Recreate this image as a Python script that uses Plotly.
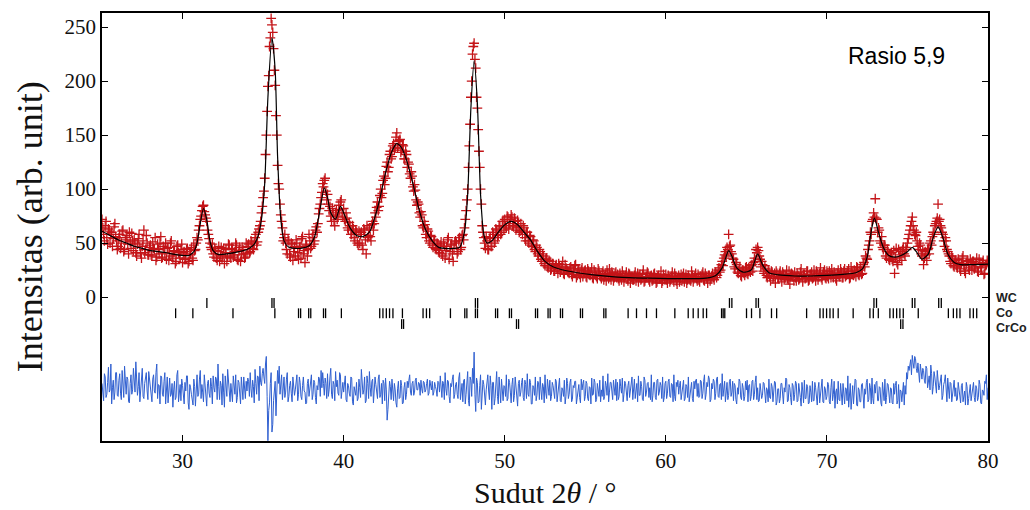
import plotly.graph_objects as go

# 2theta grids of the observed / difference data (whole and half 0.1-degree steps)
two_theta = [round(25 + i / 10, 2) for i in range(551)]
two_theta_half = [round(25.05 + i / 10, 2) for i in range(550)]

# observed intensity (red +) at two_theta, one row per degree
obs = [
    72, 58, 66, 55, 63, 50, 60, 54, 68, 52,
    47, 58, 50, 62, 44, 55, 49, 60, 45, 52,
    53, 41, 49, 58, 40, 47, 62, 44, 50, 39,
    48, 38, 45, 55, 37, 44, 50, 36, 47, 41,
    35, 46, 40, 52, 36, 43, 33, 48, 39, 44,
    32, 42, 36, 45, 33, 40, 36, 48, 44, 55,
    62, 72, 80, 85, 76, 70, 58, 50, 44, 40,
    45, 36, 42, 33, 46, 38, 31, 44, 37, 48,
    36, 44, 39, 50, 35, 43, 33, 46, 40, 37,
    40, 49, 42, 51, 44, 55, 48, 60, 66, 78,
    92, 110, 150, 195, 232, 258, 245, 210, 168, 122,
    100, 76, 64, 55, 50, 40, 52, 37, 49, 42,
    38, 50, 35, 47, 54, 40, 32, 48, 44, 52,
    47, 58, 52, 65, 68, 82, 92, 105, 108, 98,
    95, 80, 75, 82, 70, 76, 72, 85, 88, 78,
    82, 70, 73, 62, 66, 58, 63, 52, 60, 48,
    50, 60, 44, 62, 40, 55, 64, 52, 70, 68,
    74, 88, 84, 100, 96, 112, 110, 125, 120, 135,
    130, 142, 138, 152, 144, 146, 136, 140, 128, 132,
    125, 114, 116, 102, 104, 90, 88, 78, 79, 66,
    70, 58, 63, 52, 57, 48, 53, 45, 50, 43,
    48, 40, 50, 36, 47, 55, 42, 49, 33, 51,
    50, 42, 55, 46, 58, 64, 80, 100, 140, 185,
    225, 235, 212, 175, 135, 100, 66, 55, 45, 52,
    44, 55, 47, 58, 52, 62, 57, 65, 60, 70,
    72, 64, 74, 68, 76, 66, 73, 62, 71, 60,
    68, 58, 64, 52, 60, 50, 56, 47, 52, 42,
    46, 38, 42, 33, 38, 29, 36, 27, 33, 26,
    31, 24, 30, 22, 28, 25, 33, 21, 27, 24,
    22, 28, 19, 26, 30, 20, 25, 18, 27, 22,
    25, 18, 24, 20, 27, 17, 23, 19, 26, 21,
    17, 24, 19, 15, 22, 26, 16, 21, 18, 23,
    21, 15, 19, 24, 14, 20, 17, 22, 13, 19,
    16, 23, 18, 14, 21, 17, 25, 15, 19, 22,
    14, 20, 16, 22, 13, 19, 17, 24, 15, 18,
    21, 13, 18, 16, 23, 14, 19, 12, 20, 17,
    15, 22, 18, 13, 20, 16, 24, 14, 19, 17,
    21, 14, 18, 23, 15, 19, 13, 20, 17, 22,
    16, 23, 20, 27, 25, 33, 36, 42, 46, 58,
    48, 40, 35, 26, 30, 22, 27, 19, 25, 20,
    28, 21, 26, 29, 24, 36, 44, 46, 38, 28,
    30, 22, 26, 18, 24, 15, 23, 19, 13, 22,
    17, 24, 14, 21, 18, 25, 16, 12, 22, 19,
    23, 15, 20, 17, 26, 14, 21, 18, 24, 16,
    21, 17, 25, 15, 22, 19, 27, 16, 23, 18,
    24, 17, 22, 26, 18, 21, 15, 25, 19, 23,
    18, 26, 20, 24, 17, 28, 21, 25, 19, 27,
    20, 27, 22, 32, 38, 35, 48, 60, 70, 78,
    91, 72, 64, 52, 56, 44, 48, 36, 42, 34,
    41, 33, 22, 45, 30, 37, 42, 44, 40, 46,
    50, 58, 66, 74, 62, 57, 52, 44, 48, 38,
    30, 42, 34, 45, 50, 48, 60, 66, 70, 86,
    72, 64, 58, 47, 52, 42, 38, 31, 36, 28,
    34, 27, 32, 24, 36, 29, 22, 33, 27, 35,
    25, 33, 28, 36, 23, 31, 27, 34, 22, 30,
    32,
]

# observed intensity at two_theta_half
obs_half = [
    64, 52, 70, 49, 61, 58, 47, 65, 56, 44,
    55, 45, 61, 42, 53, 57, 40, 51, 59, 43,
    50, 38, 54, 47, 36, 52, 41, 57, 39, 46,
    39, 51, 44, 34, 49, 40, 56, 37, 45, 50,
    45, 34, 50, 38, 42, 31, 47, 41, 36, 49,
    41, 35, 44, 31, 39, 46, 34, 43, 50, 53,
    66, 75, 84, 79, 73, 62, 54, 46, 49, 37,
    43, 34, 47, 39, 36, 45, 41, 33, 49, 38,
    45, 37, 42, 48, 34, 46, 39, 44, 36, 50,
    47, 41, 52, 45, 50, 58, 51, 63, 70, 84,
    98, 132, 172, 205, 240, 252, 230, 196, 150, 105,
    86, 70, 52, 58, 44, 53, 39, 50, 34, 47,
    53, 41, 46, 36, 56, 43, 49, 38, 58, 45,
    55, 49, 62, 60, 77, 86, 97, 102, 110, 90,
    86, 84, 70, 78, 66, 80, 75, 81, 90, 74,
    72, 78, 64, 69, 58, 66, 55, 62, 50, 61,
    58, 48, 63, 53, 66, 57, 56, 67, 62, 78,
    83, 80, 94, 92, 108, 104, 121, 116, 132, 128,
    140, 136, 148, 138, 145, 134, 141, 128, 135, 120,
    123, 110, 112, 98, 99, 85, 86, 74, 76, 64,
    67, 55, 61, 50, 56, 46, 52, 44, 49, 41,
    51, 38, 47, 43, 53, 35, 48, 40, 45, 52,
    40, 52, 44, 57, 53, 72, 90, 120, 160, 200,
    232, 220, 185, 155, 120, 86, 60, 50, 56, 44,
    54, 47, 60, 50, 63, 55, 66, 58, 70, 62,
    66, 75, 63, 72, 74, 65, 70, 64, 68, 61,
    62, 66, 55, 60, 52, 57, 48, 53, 44, 48,
    40, 44, 35, 40, 31, 35, 28, 34, 25, 31,
    24, 29, 27, 31, 23, 28, 22, 30, 26, 23,
    27, 21, 24, 29, 18, 26, 21, 25, 19, 24,
    19, 26, 21, 23, 18, 25, 20, 17, 24, 19,
    22, 16, 21, 25, 17, 20, 23, 15, 22, 18,
    17, 22, 16, 20, 18, 23, 15, 21, 18, 16,
    20, 15, 22, 19, 16, 21, 14, 18, 23, 16,
    19, 15, 21, 17, 14, 20, 18, 13, 21, 16,
    16, 20, 14, 19, 17, 22, 15, 18, 14, 21,
    19, 14, 21, 16, 18, 15, 20, 17, 22, 15,
    16, 19, 21, 16, 22, 17, 20, 15, 19, 18,
    22, 18, 25, 23, 30, 29, 39, 38, 44, 47,
    42, 36, 28, 32, 23, 26, 20, 25, 22, 27,
    22, 27, 23, 30, 32, 33, 41, 43, 35, 33,
    24, 29, 20, 25, 19, 24, 17, 22, 24, 18,
    22, 19, 23, 16, 20, 17, 24, 19, 21, 15,
    18, 22, 16, 23, 19, 21, 17, 24, 15, 20,
    23, 18, 20, 24, 16, 22, 18, 21, 25, 17,
    19, 24, 18, 21, 23, 17, 22, 20, 26, 18,
    24, 19, 22, 26, 18, 24, 20, 23, 28, 21,
    25, 21, 30, 28, 36, 44, 52, 58, 72, 74,
    73, 60, 62, 50, 46, 48, 38, 44, 35, 40,
    35, 43, 36, 32, 44, 39, 34, 46, 38, 44,
    54, 62, 70, 66, 58, 60, 47, 50, 40, 43,
    36, 39, 44, 40, 52, 56, 58, 68, 73, 70,
    66, 60, 52, 55, 44, 40, 33, 38, 29, 34,
    29, 35, 26, 31, 38, 24, 30, 34, 25, 32,
    33, 26, 31, 24, 35, 28, 32, 21, 29, 34,
]

# calculated profile (black line), read at irregular 2theta positions
calc_x = [
    25.0, 25.5, 26.0, 26.5, 27.0, 27.5, 28.0, 28.5, 29.0, 29.5, 30.0, 30.4,
    30.7, 30.9, 31.1, 31.3, 31.5, 31.7, 31.9, 32.2, 32.8, 33.5, 34.0, 34.4,
    34.7, 34.9, 35.1, 35.3, 35.55, 35.75, 35.9, 36.1, 36.3, 36.6, 37.0, 37.5,
    37.9, 38.2, 38.5, 38.8, 39.0, 39.2, 39.5, 39.8, 40.0, 40.4, 40.8, 41.2,
    41.6, 41.9, 42.2, 42.6, 43.0, 43.3, 43.6, 43.9, 44.3, 44.7, 45.1, 45.5,
    45.9, 46.3, 46.8, 47.2, 47.5, 47.7, 47.9, 48.1, 48.3, 48.5, 48.7, 48.9,
    49.2, 49.6, 50.0, 50.4, 50.8, 51.2, 51.6, 52.0, 52.5, 53.0, 53.5, 54.5,
    55.5, 57.0, 59.0, 61.0, 62.5, 63.1, 63.5, 63.9, 64.1, 64.4, 64.8, 65.3,
    65.7, 66.0, 66.4, 67.0, 68.0, 69.0, 70.0, 71.0, 71.8, 72.2, 72.5, 72.8,
    72.95, 73.2, 73.5, 73.8, 74.2, 74.6, 75.0, 75.3, 75.6, 75.9, 76.3, 76.6,
    76.9, 77.2, 77.5, 77.9, 78.3, 79.0, 80.0,
]
calc_y = [
    61, 57, 53, 50, 47, 45, 43, 42, 41, 39.5, 38.5, 38.5,
    42, 50, 68, 82, 72, 52, 43, 39.5, 40, 42, 44, 48,
    57, 72, 105, 185, 240, 210, 130, 72, 52, 46, 45, 45.5,
    48, 56, 78, 101, 92, 78, 72, 84, 78, 64, 57, 56,
    60, 72, 88, 115, 135, 142, 138, 127, 105, 80, 62, 52,
    46, 45, 45, 46, 60, 95, 175, 219, 180, 95, 58, 50,
    52, 60, 67, 70, 67, 60, 53, 43, 33, 28, 25.5, 22.5,
    20.5, 18.5, 17.5, 17, 17.5, 20, 27, 43, 38, 27, 23, 25,
    40, 30, 22.5, 20.5, 19.5, 19.5, 20, 21, 22.5, 26, 37, 65,
    73, 60, 46, 39, 37, 38.5, 42, 46, 41, 35, 40, 55,
    65, 55, 40, 32, 30, 30, 30.5,
]

# difference curve (blue, already offset) at two_theta
diff = [
    -80, -96, -74, -90, -65, -86, -99, -77, -88, -70,
    -92, -71, -95, -82, -64, -90, -76, -98, -72, -86,
    -79, -60, -91, -70, -84, -66, -94, -75, -87, -69,
    -83, -97, -72, -89, -62, -81, -99, -74, -92, -70,
    -85, -98, -75, -90, -102, -78, -93, -68, -88, -96,
    -82, -99, -87, -73, -104, -84, -95, -76, -101, -72,
    -90, -68, -81, -97, -86, -101, -77, -93, -83, -73,
    -88, -76, -62, -95, -82, -71, -102, -85, -67, -91,
    -80, -97, -85, -72, -93, -79, -99, -86, -74, -94,
    -87, -78, -70, -93, -83, -67, -90, -74, -64, -82,
    -66, -80, -55, -133, -98, -70, -118, -86, -110, -68,
    -64, -82, -95, -74, -88, -70, -92, -78, -97, -83,
    -86, -72, -90, -79, -95, -74, -88, -98, -76, -85,
    -72, -90, -79, -99, -86, -76, -68, -70, -91, -80,
    -71, -86, -66, -94, -81, -69, -77, -91, -72, -84,
    -88, -73, -97, -82, -92, -75, -100, -86, -79, -94,
    -84, -67, -90, -74, -96, -80, -69, -92, -76, -88,
    -81, -94, -72, -90, -99, -80, -75, -114, -93, -83,
    -76, -96, -86, -102, -78, -93, -82, -98, -79, -90,
    -84, -72, -91, -78, -88, -75, -86, -80, -77, -89,
    -79, -86, -76, -89, -82, -78, -88, -83, -92, -79,
    -73, -93, -80, -70, -91, -78, -98, -83, -72, -90,
    -79, -94, -70, -88, -97, -76, -90, -69, -101, -77,
    -66, -51, -106, -79, -97, -72, -93, -81, -100, -77,
    -87, -73, -104, -79, -94, -69, -99, -86, -76, -96,
    -83, -72, -94, -79, -98, -75, -91, -84, -101, -77,
    -88, -75, -96, -81, -71, -92, -79, -99, -84, -74,
    -91, -79, -74, -95, -83, -72, -94, -86, -77, -92,
    -82, -94, -78, -90, -75, -97, -86, -77, -92, -80,
    -90, -76, -95, -84, -78, -93, -81, -98, -86, -77,
    -92, -80, -96, -84, -75, -90, -79, -95, -85, -77,
    -86, -73, -92, -82, -71, -88, -79, -95, -84, -76,
    -79, -92, -83, -75, -90, -80, -96, -78, -88, -74,
    -85, -94, -80, -73, -91, -83, -96, -77, -88, -79,
    -84, -72, -91, -79, -95, -76, -88, -82, -74, -93,
    -78, -89, -76, -93, -81, -72, -96, -83, -90, -78,
    -89, -77, -94, -83, -74, -91, -79, -97, -85, -76,
    -80, -92, -78, -89, -72, -90, -83, -76, -95, -85,
    -78, -89, -74, -93, -80, -71, -85, -97, -79, -91,
    -76, -88, -96, -82, -99, -90, -78, -95, -84, -92,
    -86, -97, -81, -92, -77, -90, -73, -84, -96, -86,
    -91, -80, -98, -86, -76, -94, -83, -89, -79, -97,
    -85, -94, -80, -99, -88, -76, -96, -84, -100, -82,
    -90, -80, -96, -85, -101, -87, -77, -94, -83, -98,
    -88, -78, -96, -84, -100, -79, -91, -76, -98, -85,
    -92, -81, -99, -76, -90, -103, -85, -78, -96, -87,
    -80, -99, -85, -73, -93, -104, -82, -91, -77, -101,
    -86, -97, -80, -103, -90, -76, -95, -84, -75, -99,
    -89, -78, -96, -84, -101, -87, -76, -93, -81, -98,
    -85, -99, -90, -78, -96, -103, -87, -82, -100, -90,
    -76, -68, -58, -54, -66, -57, -70, -73, -62, -76,
    -68, -80, -66, -78, -86, -71, -83, -74, -89, -77,
    -82, -72, -91, -78, -88, -75, -94, -80, -89, -77,
    -84, -95, -86, -98, -80, -90, -100, -83, -94, -81,
    -90, -79, -97, -85, -93, -81, -99, -87, -78, -72,
    -84,
]

# difference curve at two_theta_half
diff_half = [
    -86, -71, -93, -79, -88, -62, -84, -95, -70, -91,
    -77, -89, -68, -93, -81, -74, -97, -80, -90, -66,
    -88, -74, -83, -97, -72, -92, -80, -70, -95, -78,
    -91, -76, -87, -70, -94, -82, -73, -90, -78, -99,
    -74, -88, -92, -80, -86, -95, -72, -97, -81, -76,
    -95, -79, -73, -98, -81, -90, -100, -83, -77, -92,
    -76, -94, -88, -72, -97, -80, -89, -75, -99, -84,
    -74, -95, -83, -78, -100, -88, -73, -92, -80, -97,
    -93, -73, -90, -98, -77, -88, -74, -95, -91, -78,
    -75, -92, -85, -77, -98, -80, -73, -96, -79, -71,
    -74, -62, -92, -105, -80, -125, -96, -78, -92, -80,
    -90, -72, -78, -93, -76, -97, -82, -89, -74, -91,
    -78, -96, -74, -92, -82, -87, -99, -80, -92, -74,
    -95, -77, -93, -82, -74, -92, -84, -80, -75, -94,
    -92, -74, -90, -78, -96, -83, -89, -70, -94, -79,
    -77, -95, -80, -89, -74, -97, -83, -91, -96, -76,
    -93, -79, -86, -98, -73, -94, -84, -78, -98, -74,
    -90, -76, -93, -80, -77, -96, -86, -104, -78, -95,
    -92, -80, -98, -85, -94, -77, -99, -84, -95, -78,
    -77, -88, -80, -91, -77, -86, -79, -91, -85, -78,
    -88, -80, -91, -77, -86, -91, -79, -86, -78, -88,
    -88, -78, -95, -85, -77, -92, -80, -76, -94, -81,
    -90, -75, -95, -80, -77, -99, -82, -96, -74, -92,
    -80, -90, -75, -98, -82, -104, -77, -92, -86, -72,
    -95, -82, -79, -100, -84, -92, -74, -98, -90, -82,
    -92, -96, -76, -88, -81, -97, -74, -95, -80, -92,
    -79, -93, -77, -94, -90, -76, -99, -82, -91, -96,
    -78, -95, -86, -80, -98, -89, -76, -91, -96, -79,
    -93, -76, -97, -79, -96, -84, -92, -99, -75, -94,
    -79, -97, -82, -78, -99, -85, -93, -76, -80, -96,
    -78, -94, -83, -99, -91, -76, -97, -80, -92, -97,
    -92, -95, -78, -91, -97, -79, -93, -77, -91, -96,
    -95, -76, -89, -97, -78, -92, -82, -93, -79, -95,
    -76, -83, -97, -91, -78, -95, -74, -92, -80, -93,
    -95, -97, -79, -93, -77, -91, -79, -94, -97, -80,
    -94, -78, -92, -80, -97, -92, -79, -77, -82, -95,
    -78, -96, -81, -93, -97, -80, -94, -78, -77, -92,
    -93, -77, -94, -78, -95, -79, -73, -97, -80, -76,
    -95, -76, -92, -81, -95, -92, -78, -82, -95, -78,
    -92, -78, -80, -95, -84, -76, -93, -80, -96, -78,
    -77, -82, -96, -78, -95, -79, -95, -97, -80, -94,
    -79, -96, -84, -97, -93, -80, -97, -78, -100, -85,
    -98, -80, -95, -84, -75, -97, -81, -93, -80, -96,
    -78, -97, -80, -93, -79, -98, -94, -81, -99, -82,
    -97, -96, -79, -97, -85, -98, -79, -97, -83, -95,
    -79, -97, -84, -96, -78, -88, -99, -95, -80, -100,
    -95, -84, -96, -102, -80, -88, -99, -76, -100, -84,
    -97, -81, -98, -85, -79, -97, -80, -99, -94, -81,
    -79, -96, -83, -98, -79, -96, -99, -80, -95, -84,
    -98, -80, -82, -99, -81, -86, -97, -79, -82, -70,
    -64, -60, -72, -61, -55, -66, -61, -79, -67, -66,
    -77, -64, -84, -73, -63, -90, -69, -82, -68, -86,
    -76, -95, -81, -72, -97, -83, -79, -97, -78, -92,
    -96, -79, -91, -82, -97, -87, -79, -100, -85, -96,
    -80, -93, -82, -96, -77, -98, -86, -91, -80, -95,
]

# Bragg reflection positions of each phase
wc_pos = [31.51, 35.55, 35.68, 48.18, 48.32, 63.95, 64.10, 65.60, 65.75,
          72.92, 73.08, 75.30, 75.46, 76.94, 77.10]
co_pos = [29.57, 30.64, 33.13, 35.73, 37.20, 37.33, 37.83, 37.96, 38.75, 38.88,
          39.86, 42.24, 42.44, 42.65, 42.85, 43.06, 43.65, 44.93, 45.14, 45.34,
          46.63, 47.52, 47.65, 48.18, 48.31, 49.43, 49.56, 50.29, 50.42, 51.91,
          52.04, 52.69, 52.82, 53.46, 53.59, 54.70, 54.83, 56.15, 56.28, 57.66,
          58.18, 58.80, 59.42, 60.56, 61.39, 61.70, 62.01, 62.32, 62.53, 63.46,
          63.56, 63.66, 65.01, 65.32, 65.84, 66.56, 66.88, 68.74, 69.57, 69.77,
          69.98, 70.19, 70.39, 70.70, 71.63, 72.67, 72.88, 73.19, 73.91, 74.12,
          74.33, 74.53, 74.74, 75.67, 77.54, 77.85, 78.06, 78.26, 78.88, 79.09,
          79.30]
crco_pos = [43.60, 43.72, 50.73, 50.86, 74.58, 74.72]

phase_names = ["WC", "Co", "CrCo"]
phase_rows = [-5.5, -15, -25]
phase_label_y = [-1, -15, -29]
y_ticks = [0, 50, 100, 150, 200, 250]
x_ticks = [30, 40, 50, 60, 70, 80]

# combine whole- and half-step samples in 2theta order
obs_x = two_theta + two_theta_half
obs_y = obs + obs_half
diff_x, diff_y = [], []
for i in range(len(two_theta)):
    diff_x.append(two_theta[i])
    diff_y.append(diff[i])
    if i < len(two_theta_half):
        diff_x.append(two_theta_half[i])
        diff_y.append(diff_half[i])

fig = go.Figure()

fig.add_trace(go.Scatter(
    x=obs_x, y=obs_y, mode="markers",
    marker=dict(symbol="cross-thin", size=7, color="#d8161a",
                line=dict(width=1.3, color="#c41418")),
    showlegend=False, hoverinfo="skip"))

fig.add_trace(go.Scatter(
    x=calc_x, y=calc_y, mode="lines",
    line=dict(color="black", width=1.2, shape="spline", smoothing=0.7),
    showlegend=False, hoverinfo="skip"))

fig.add_trace(go.Scatter(
    x=diff_x, y=diff_y, mode="lines",
    line=dict(color="#2f5fd0", width=1),
    showlegend=False, hoverinfo="skip"))

for pos, row in zip([wc_pos, co_pos, crco_pos], phase_rows):
    fig.add_trace(go.Scatter(
        x=pos, y=[row] * len(pos), mode="markers",
        marker=dict(symbol="line-ns", size=7, color="black",
                    line=dict(width=1.3, color="black")),
        showlegend=False, hoverinfo="skip"))

for name, yv in zip(phase_names, phase_label_y):
    fig.add_annotation(x=1.007, xref="paper", y=yv, yref="y", text="<b>" + name + "</b>",
                       showarrow=False, xanchor="left", yanchor="middle",
                       font=dict(family="Liberation Sans", size=12.5, color="#222"))

fig.add_annotation(x=74.3, y=223, xref="x", yref="y", text="Rasio 5,9",
                   showarrow=False, xanchor="center", yanchor="middle",
                   font=dict(family="Liberation Sans", size=23, color="black"))

fig.add_annotation(x=0.5, xref="paper", y=-0.12, yref="paper",
                   text="Sudut 2<i>θ</i> / °", showarrow=False,
                   xanchor="center", yanchor="middle",
                   font=dict(family="Liberation Serif", size=30, color="#111"))

fig.add_annotation(x=-0.081, xref="paper", y=0.5, yref="paper",
                   text="Intensitas (arb. unit)", showarrow=False, textangle=-90,
                   xanchor="center", yanchor="middle",
                   font=dict(family="Liberation Serif", size=36, color="#111"))

fig.update_layout(
    width=1030, height=510,
    margin=dict(l=102, r=42, t=13, b=69),
    paper_bgcolor="white", plot_bgcolor="white",
    xaxis=dict(range=[25, 80], tickvals=x_ticks, ticks="inside", ticklen=6,
               tickwidth=1.2, tickcolor="black", mirror="ticks", showline=True,
               linecolor="black", linewidth=1.5, showgrid=False, zeroline=False,
               tickfont=dict(family="Liberation Serif", size=21, color="#111")),
    yaxis=dict(range=[-133.3, 263], tickvals=y_ticks, ticks="inside", ticklen=6,
               tickwidth=1.2, tickcolor="black", mirror="ticks", showline=True,
               linecolor="black", linewidth=1.5, showgrid=False, zeroline=False,
               tickfont=dict(family="Liberation Serif", size=21, color="#111")),
)

fig.write_html("out.html")
